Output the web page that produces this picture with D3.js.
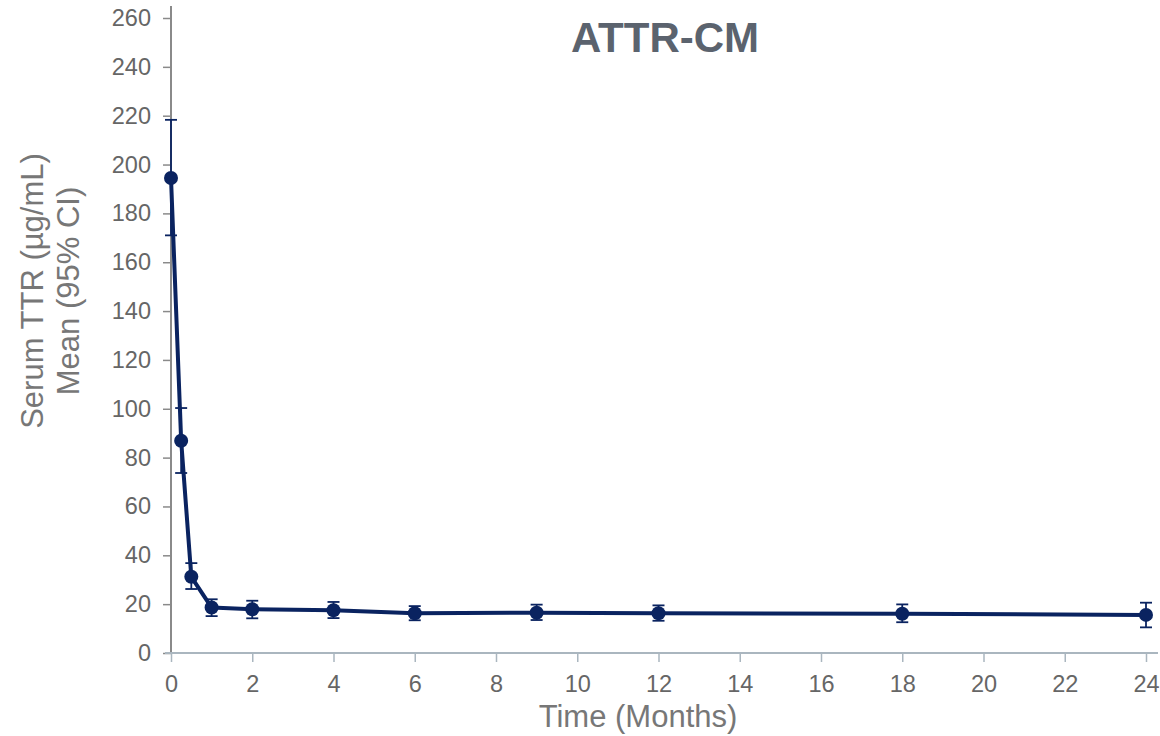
<!DOCTYPE html>
<html lang="en">
<head>
<meta charset="UTF-8">
<title>ATTR-CM</title>
<script src="https://d3js.org/d3.v7.min.js"></script>
<style>
  body { margin: 0; background: #fff; }
  text { font-family: "Liberation Sans", Arial, sans-serif; }
</style>
</head>
<body>
<script>

var w = 1160;
var h = 736;
var margin = {top: 18, right: 14, bottom: 83, left: 171};

// serum TTR over time, mean and 95% CI
var months = [0, 0.25, 0.5, 1, 2, 4, 6, 9, 12, 18, 24];
var meanTTR = [194.5, 86.9, 31.2, 18.6, 17.9, 17.5, 16.3, 16.5, 16.3, 16.1, 15.6];
var upperCI = [218.3, 100.3, 36.8, 22.0, 21.4, 20.9, 19.2, 19.8, 19.5, 19.9, 20.6];
var lowerCI = [171.0, 73.7, 26.2, 15.1, 14.2, 14.3, 13.4, 13.5, 13.2, 12.6, 10.5];
var xTicks = [0, 2, 4, 6, 8, 10, 12, 14, 16, 18, 20, 22, 24];
var yTicks = [0, 20, 40, 60, 80, 100, 120, 140, 160, 180, 200, 220, 240, 260];

var navy = "#0a2360";

var points = months.map(function(m, i) {
    return {t: m, mean: meanTTR[i], hi: upperCI[i], lo: lowerCI[i]};
});

var x = d3.scaleLinear().domain([0, 24]).range([margin.left, 1146]);
var y = d3.scaleLinear().domain([0, 260]).range([653, margin.top]);

var svg = d3.select("body")
    .append("svg")
    .attr("width", w)
    .attr("height", h);

// y axis
var yAxis = svg.append("g")
    .attr("transform", "translate(" + margin.left + ",0)")
    .call(d3.axisLeft(y).tickValues(yTicks).tickSize(8).tickPadding(12));
yAxis.select(".domain").remove();
yAxis.selectAll(".tick line").attr("stroke", "#8a8a8a").attr("stroke-width", 1.5);
yAxis.selectAll(".tick text")
    .attr("fill", "#666")
    .style("font-size", "23.5px");
svg.append("line")
    .attr("x1", margin.left).attr("x2", margin.left)
    .attr("y1", 6).attr("y2", 653)
    .attr("stroke", "#8a8a8a").attr("stroke-width", 2);

// x axis
var xAxis = svg.append("g")
    .attr("transform", "translate(0,653)")
    .call(d3.axisBottom(x).tickValues(xTicks).tickSize(9).tickPadding(13));
xAxis.select(".domain").remove();
xAxis.selectAll(".tick line").attr("stroke", "#aab6bf").attr("stroke-width", 1.5);
xAxis.selectAll(".tick text")
    .attr("fill", "#666")
    .style("font-size", "23.5px");
svg.append("line")
    .attr("x1", margin.left - 6).attr("x2", 1158)
    .attr("y1", 653).attr("y2", 653)
    .attr("stroke", "#aab6bf").attr("stroke-width", 2);

// error bars
var err = svg.append("g").selectAll("g")
    .data(points)
    .enter()
    .append("g");
err.append("line")
    .attr("x1", function(d) { return x(d.t); })
    .attr("x2", function(d) { return x(d.t); })
    .attr("y1", function(d) { return y(d.hi); })
    .attr("y2", function(d) { return y(d.lo); })
    .attr("stroke", navy).attr("stroke-width", 1.8);
err.selectAll(".cap")
    .data(function(d) { return [[d.t, d.hi], [d.t, d.lo]]; })
    .enter()
    .append("line")
    .attr("x1", function(d) { return x(d[0]) - 6; })
    .attr("x2", function(d) { return x(d[0]) + 6; })
    .attr("y1", function(d) { return y(d[1]); })
    .attr("y2", function(d) { return y(d[1]); })
    .attr("stroke", navy).attr("stroke-width", 1.8);

// mean line
var line = d3.line()
    .x(function(d) { return x(d.t); })
    .y(function(d) { return y(d.mean); });
svg.append("path")
    .datum(points)
    .attr("d", line)
    .attr("fill", "none")
    .attr("stroke", navy)
    .attr("stroke-width", 4)
    .attr("stroke-linejoin", "round");

svg.append("g").selectAll("circle")
    .data(points)
    .enter()
    .append("circle")
    .attr("cx", function(d) { return x(d.t); })
    .attr("cy", function(d) { return y(d.mean); })
    .attr("r", 7)
    .attr("fill", navy);

// titles
svg.append("text")
    .text("ATTR-CM")
    .attr("x", 665)
    .attr("y", 52)
    .attr("text-anchor", "middle")
    .attr("font-weight", "bold")
    .attr("fill", "#5b636e")
    .style("font-size", "42px");

svg.append("text")
    .text("Time (Months)")
    .attr("x", 638)
    .attr("y", 727)
    .attr("text-anchor", "middle")
    .attr("fill", "#777")
    .style("font-size", "31px");

var yTitle = svg.append("text")
    .attr("transform", "translate(43,291) rotate(-90)")
    .attr("text-anchor", "middle")
    .attr("fill", "#777")
    .style("font-size", "31px");
yTitle.append("tspan").attr("x", 0).attr("dy", 0).text("Serum TTR (µg/mL)");
yTitle.append("tspan").attr("x", 0).attr("dy", 36).text("Mean (95% CI)");

</script>
</body>
</html>
